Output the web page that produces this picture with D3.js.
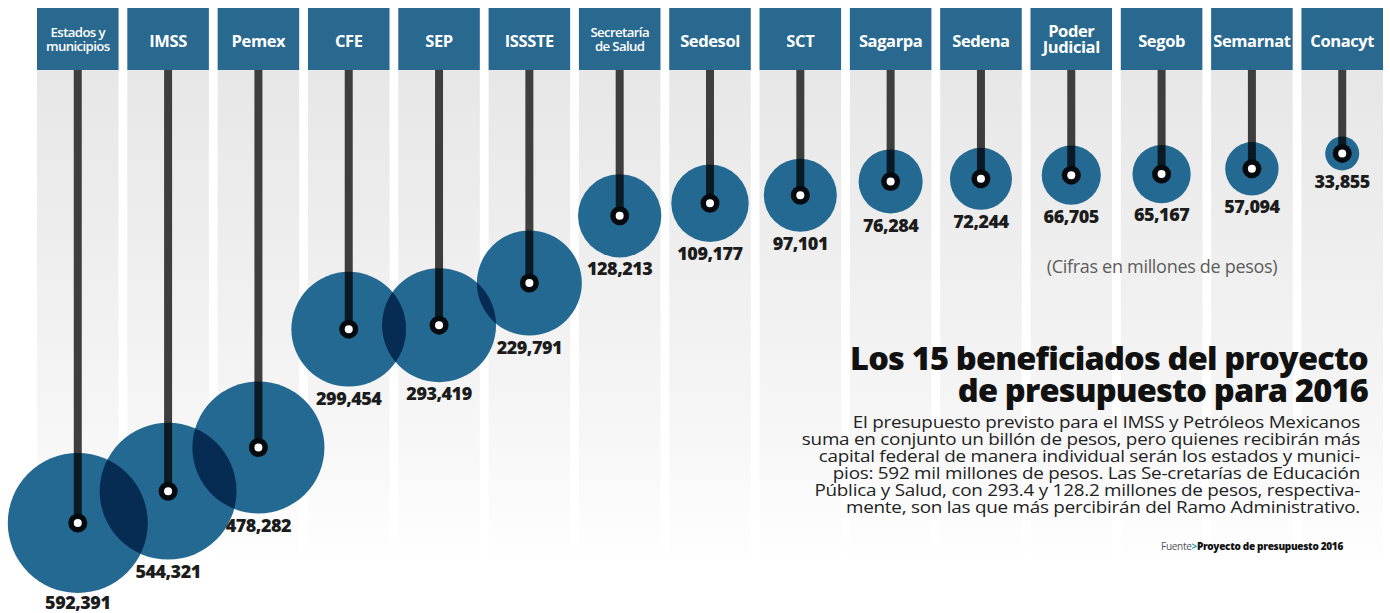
<!DOCTYPE html>
<html>
<head>
<meta charset="utf-8">
<script src="https://cdn.jsdelivr.net/npm/d3@7"></script>
<style>
  html, body { margin: 0; padding: 0; background: #ffffff; }
  svg { display: block; }
  text { font-family: "Open Sans", "Noto Sans", "DejaVu Sans", sans-serif; }
</style>
</head>
<body>
<svg id="chart" width="1390" height="613"></svg>
<script>
// ---------- DATA ----------
const categories = [
  "Estados y\nmunicipios", "IMSS", "Pemex", "CFE", "SEP", "ISSSTE",
  "Secretaría\nde Salud", "Sedesol", "SCT", "Sagarpa", "Sedena",
  "Poder\nJudicial", "Segob", "Semarnat", "Conacyt"
];
const values = [
  592391, 544321, 478282, 299454, 293419, 229791,
  128213, 109177, 97101, 76284, 72244,
  66705, 65167, 57094, 33855
];
const titleLines = [
  "Los 15 beneficiados del proyecto",
  "de presupuesto para 2016"
];
const bodyLines = [
  "El presupuesto previsto para el IMSS y Petróleos Mexicanos",
  "suma en conjunto un billón de pesos, pero quienes recibirán más",
  "capital federal de manera individual serán los estados y munici-",
  "pios: 592 mil millones de pesos. Las Se-cretarías de Educación",
  "Pública y Salud, con 293.4 y 128.2 millones de pesos, respectiva-",
  "mente, son las que más percibirán del Ramo Administrativo."
];
const unitNote = "(Cifras en millones de pesos)";
const sourceParts = ["Fuente", ">", "Proyecto de presupuesto 2016"];

// ---------- SETUP ----------
const svg = d3.select("#chart");
const TAB_TOP = 8, TAB_BOTTOM = 70;
const blue = "#246991";
const tabBlue = "#29698f";

const idx = d3.range(categories.length);
const x = d3.scaleBand().domain(idx).range([37, 1383]).paddingInner(0.097).paddingOuter(0);
const y = d3.scaleLinear().domain([0, 600000]).range([131, 528]);
const r = d3.scaleLog().domain(d3.extent(values)).range([17, 70]);
const fmt = d3.format(",");
const cx = i => x(i) + x.bandwidth() / 2;

// gradient for background stripes
const defs = svg.append("defs");
const grad = defs.append("linearGradient").attr("id", "fade")
  .attr("x1", 0).attr("x2", 0).attr("y1", 0).attr("y2", 1);
grad.append("stop").attr("offset", "0%").attr("stop-color", "#e7e7e7");
grad.append("stop").attr("offset", "35%").attr("stop-color", "#eeeeee");
grad.append("stop").attr("offset", "70%").attr("stop-color", "#f6f6f6");
grad.append("stop").attr("offset", "100%").attr("stop-color", "#ffffff");

// stripes
svg.append("g").selectAll("rect").data(idx).join("rect")
  .attr("x", i => x(i)).attr("width", x.bandwidth())
  .attr("y", TAB_BOTTOM).attr("height", 500)
  .attr("fill", "url(#fade)");

// tabs
const tabs = svg.append("g").selectAll("g").data(idx).join("g");
tabs.append("rect")
  .attr("x", i => x(i)).attr("width", x.bandwidth())
  .attr("y", TAB_TOP).attr("height", TAB_BOTTOM - TAB_TOP)
  .attr("fill", tabBlue);
tabs.each(function(i) {
  const lines = categories[i].split("\n");
  const small = lines.some(l => l.length > 9);
  const fs = small ? 13.2 : 16.5;
  const lh = small ? 14 : 15.5;
  const t = d3.select(this).append("text")
    .attr("text-anchor", "middle")
    .attr("fill", "#ffffff")
    .attr("font-weight", small ? 600 : 700)
    .attr("font-size", fs)
    .attr("letter-spacing", small ? -0.6 : -0.4);
  const mid = lines.length > 1 ? 39 : 41.5;
  lines.forEach((l, k) => {
    t.append("tspan").attr("x", cx(i))
      .attr("y", mid + (k - (lines.length - 1) / 2) * lh + fs * 0.36)
      .text(l);
  });
  // keep within tab
  const w = t.node().getBBox().width;
  if (w > x.bandwidth() - 2) t.attr("font-size", fs * (x.bandwidth() - 2) / w);
});

// stems + circles in an isolated multiply group
const blend = svg.append("g").style("isolation", "isolate");
blend.selectAll("line").data(idx).join("line")
  .attr("x1", cx).attr("x2", cx)
  .attr("y1", TAB_BOTTOM).attr("y2", i => y(values[i]))
  .attr("stroke", "#3e3e3e").attr("stroke-width", 8);
blend.selectAll("circle").data(idx).join("circle")
  .attr("cx", cx).attr("cy", i => y(values[i]))
  .attr("r", i => r(values[i]))
  .attr("fill", blue)
  .style("mix-blend-mode", "multiply");

// center markers
const mk = svg.append("g").selectAll("g").data(idx).join("g");
mk.append("circle").attr("cx", cx).attr("cy", i => y(values[i]))
  .attr("r", 9.5).attr("fill", "#050a0e");
mk.append("circle").attr("cx", cx).attr("cy", i => y(values[i]))
  .attr("r", 4).attr("fill", "#ffffff");

// value labels
svg.append("g").selectAll("text").data(idx).join("text")
  .attr("x", cx)
  .attr("y", i => Math.min(609, y(values[i]) + r(values[i]) + 18))
  .attr("text-anchor", "middle")
  .attr("font-size", 18).attr("font-weight", 800)
  .attr("letter-spacing", -0.5)
  .attr("fill", "#1c1c1c")
  .text(i => fmt(values[i]));

// unit note
svg.append("text")
  .attr("x", 1162).attr("y", 273)
  .attr("text-anchor", "middle")
  .attr("font-size", 18).attr("fill", "#5c5c5c")
  .attr("letter-spacing", -0.3)
  .text(unitNote);

// title
const RIGHT = 1368;
const tg = svg.append("text")
  .attr("text-anchor", "end")
  .attr("font-weight", 800).attr("fill", "#111111")
  .attr("font-size", 30).attr("letter-spacing", -0.8);
titleLines.forEach((l, k) => {
  tg.append("tspan").attr("x", RIGHT).attr("y", 370 + k * 32).text(l);
});
{
  const w = tg.select("tspan").node().getComputedTextLength();
  tg.attr("font-size", Math.min(34, 30 * 516 / w));
}

// body (horizontally condensed to mimic the narrow newspaper face)
const bodyG = svg.append("g").attr("transform", "translate(1360,0) scale(0.86,1)");
const bg = bodyG.append("text")
  .attr("text-anchor", "end").attr("fill", "#222222")
  .attr("font-size", 15.5).attr("letter-spacing", -0.2);
bodyLines.forEach((l, k) => {
  bg.append("tspan").attr("x", 0).attr("y", 428 + k * 17).text(l);
});
{
  let mw = 0;
  bg.selectAll("tspan").each(function() { mw = Math.max(mw, this.getComputedTextLength()); });
  const sx = 558 / mw;
  bodyG.attr("transform", `translate(1360,0) scale(${sx},1)`);
}

// source
const src = svg.append("text")
  .attr("x", 1343).attr("y", 550)
  .attr("text-anchor", "end").attr("font-size", 10)
  .attr("letter-spacing", -0.3);
src.append("tspan").attr("fill", "#555555").text(sourceParts[0]);
src.append("tspan").attr("fill", "#2a9dbb").attr("font-weight", 700).text(sourceParts[1]);
src.append("tspan").attr("fill", "#111111").attr("font-weight", 800).text(sourceParts[2]);
</script>
</body>
</html>
